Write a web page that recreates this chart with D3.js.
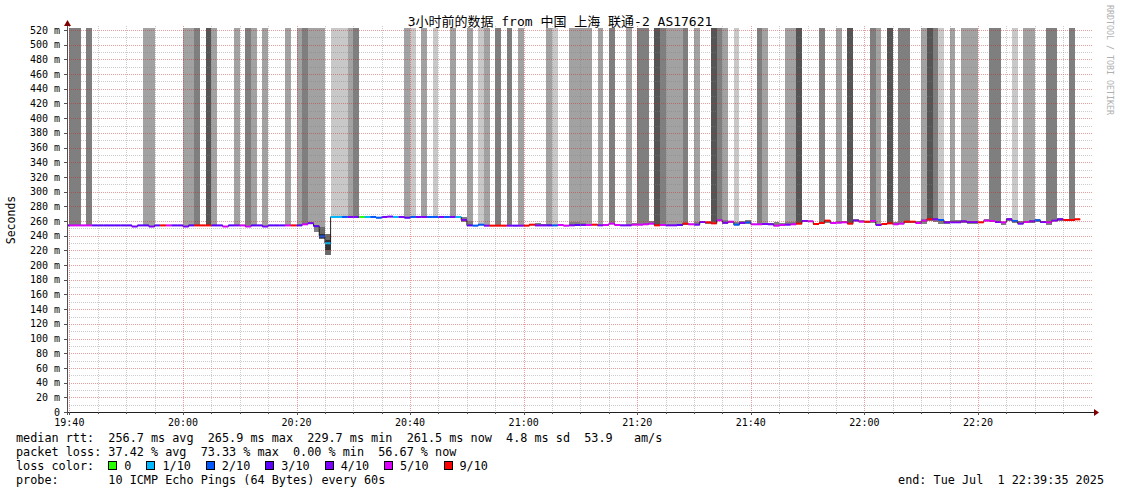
<!DOCTYPE html>
<html><head><meta charset="utf-8">
<script src="https://cdn.jsdelivr.net/npm/d3@7"></script>
<style>
body{margin:0;background:#fff}
svg{display:block}
text{font-family:"DejaVu Sans Mono","Noto Sans CJK SC",monospace;fill:#000}
</style>
</head><body>
<svg id="c" width="1121" height="494"></svg>
<script>
// ---------------- DATA ----------------
const title = "3小时前的数据 from 中国 上海 联通-2 AS17621";
const yLabel = "Seconds";
const sideLabel = "RRDTOOL / TOBI OETIKER";
const firstStep = [2025, 6, 1, 19, 39];          // first 60 s step (partially visible)
const rangeStart = [2025, 6, 1, 19, 39, 35];
const rangeEnd = [2025, 6, 1, 22, 39, 35];
const yTicks = [0,20,40,60,80,100,120,140,160,180,200,220,240,260,280,300,320,340,360,380,400,420,440,460,480,500,520];
const yTickLabels = ["0","20 m","40 m","60 m","80 m","100 m","120 m","140 m","160 m","180 m","200 m","220 m","240 m","260 m","280 m","300 m","320 m","340 m","360 m","380 m","400 m","420 m","440 m","460 m","480 m","500 m","520 m"];
const xTickLabels = ["19:40","20:00","20:20","20:40","21:00","21:20","21:40","22:00","22:20"];

// median rtt (ms) per minute, 19:39 .. 22:37
const median = [
 254,254,254,254,254,254,254,254,254,254,254,254, // 19:39-19:50
 252.5,254,254,252.5,254,254,254,254,254,252.5,  // 19:51-20:00
 254,254,254,254,254,254,252.5,254,254,254,      // 20:01-20:10
 252.5,254,254,252.5,254,254,254,254,254,254,    // 20:11-20:20
 255.5,257,253,239,229.7,265.5,265.5,265.5,265.5,265.5, // 20:21-20:30
 265.5,265.5,265.5,264.5,265.5,266,265.5,265.5,264.5,265.5, // 20:31-20:40
 265.5,265.5,265.5,265.5,265.5,265.5,265.5,265.5,261.5,254, // 20:41-20:50
 253.7,255,253.7,253.7,253.7,253.7,253.7,253.7,253.7,253.7, // 20:51-21:00
 255,254,254,254,254,254.6,253.7,254.1,254.6,254.6,        // 21:01-21:10
 254.6,255,254.1,254.6,256.4,254.6,254.1,254.1,255,255,    // 21:11-21:20
 255.5,256.4,254.1,254.6,254.1,254.1,254.6,256.4,255.5,255, // 21:21-21:30
 258.6,258.2,256.8,260.9,257.7,259.1,255,257.3,258.2,255.5, // 21:31-21:40
 255.5,255.9,255.5,253.7,254.6,255,255.5,256.4,260,259.6,   // 21:41-21:50
 255.9,257.3,260.5,257.3,257.7,258.2,256.4,260.5,259.1,259.1, // 21:51-22:00
 260,254.6,255.9,256.8,255.5,256.4,259.1,259.1,257.3,260.5, // 22:01-22:10
 262.3,262.3,261.4,258.2,258.2,258.2,259.6,258.6,258.6,258.2, // 22:11-22:20
 260.5,260,258.6,258.2,262.3,260,256.4,258.6,259.6,260.9,   // 22:21-22:30
 258.6,258.2,260.5,262.3,261.4,261.4,262.3                  // 22:31-22:37
];
// lost pings out of 10 per minute
const loss = [
 3,5,5,5,5,3,3,3,3,3,3,3,
 4,3,3,4,3,9,5,3,3,4,
 3,9,9,9,3,3,5,3,4,5,
 5,3,3,4,3,3,3,5,9,3,
 5,4,3,2,1,1,1,2,4,4,
 0,1,2,2,4,4,1,4,3,2,
 4,4,2,2,4,2,4,1,4,3,
 2,2,4,9,9,9,4,3,4,9,
 9,4,4,3,2,5,5,4,3,4,
 5,9,4,5,5,5,4,4,5,5,
 5,5,9,5,4,4,3,9,5,4,
 4,9,9,5,4,5,2,4,2,5,
 5,4,4,5,5,4,5,9,4,5,
 9,9,9,5,5,5,9,4,5,9,
 5,4,9,9,5,5,9,9,5,5,
 9,4,2,4,4,4,4,4,4,9,
 5,5,4,5,4,2,4,5,4,2,
 4,5,4,4,9,9,9
];
// tall smoke band shade (0 none, 1 light .. 4 darkest)
const tallSmoke = [
 0,3,3,0,3,0,0,0,0,0,0,0,
 0,0,2,2,0,0,0,0,0,2,
 2,3,0,4,2,0,0,0,2,0,
 3,2,0,2,0,0,0,2,0,2,
 3,2,2,2,0,1,1,1,2,3,
 0,0,0,0,0,0,0,0,2,1,
 0,2,0,1,0,0,2,0,0,2,
 0,1,2,0,3,0,3,0,2,0,
 0,0,0,2,1,0,0,2,2,2,
 2,0,2,0,3,0,0,2,0,3,
 3,0,4,3,2,2,2,3,0,2,
 0,0,4,3,2,0,1,0,0,0,
 3,2,0,0,0,2,2,4,0,0,
 0,3,0,0,2,0,4,0,0,0,
 3,2,0,4,0,3,3,0,0,2,
 4,3,1,0,2,0,2,2,2,0,
 0,3,3,0,0,1,0,2,2,0,
 0,3,3,0,0,3,0
];
// smoke spread above / below the median (ms)
const smokeUp = [
 0,0,0,0,0,0,0,0,0,0,0,0,
 0,0,0,0,0,0,0,0,0,0,
 0,0,0,0,0,0,0,0,0,0,
 0,0,0,0,0,0,0,0,0,0,
 0,0,0,13,13,0,0,0,0,0,
 0,0,0,0,0,0,0,0,0,0,
 0,0,0,0,0,0,0,0,4.5,6,
 0,1,0,0,0,0,0,0,0,0,
 1,3.5,2,2,0,1,0,4.5,4.5,3,
 0,1,0,1,2,1,0,0,2.5,2.5,
 2.5,3,0,1,0,1,0,0,1,3,
 2,0,2,2,3,0,3,3,3,1,
 1,2,2,5,2,3,3,0,2,1,
 0,2,0,2,2,2,0,2,2,0,
 2,0,0,0,2.5,2.5,1,1,3,2,
 0,0,0,2,3,3,0,0,0,1,
 2,2,1,0,2,0,3,2,0,2,
 0,0,2,2,1,1,1
];
const smokeDown = [
 0,0,0,0,0,0,0,0,0,0,0,0,
 0,0,0,0,0,0,0,0,0,0,
 0,0,0,0,0,0,0,0,0,0,
 0,0,0,0,0,0,0,0,0,0,
 0,0,7.5,4,16,0,0,0,0,0,
 0,0,0,0,0,0,0,0,0,0,
 0,0,0,0,0,0,0,0,2.5,0,
 0,0,0,0,0,0,0,0,0,0,
 0,0,0,0,0,0,0,0,0,0,
 0,0,0,0,0,0,0,0,0,0,
 0,0,0,0,0,1.5,1.5,1.5,0,0,
 0,2,0,0,2,2,0,0,2,1,
 1,1,1,0,0,0,0,0,2,0,
 2,0,3,0,0,0,1,0,0,2,
 3,1,1.5,1,0,0,2,2,2,4,
 2,3,5,2,0,0,3,3,3,0,
 0,0,2,3,2,3,0,0,2,2,
 2,3,0,2,1,1,1
];
const lossColors = {0:"#26ff00",1:"#00b8ff",2:"#0059ff",3:"#5e00ff",4:"#7e00ff",5:"#dd00ff",9:"#ff0000"};
const lossLegend = [[0,"0"],[1,"1/10"],[2,"2/10"],[3,"3/10"],[4,"4/10"],[5,"5/10"],[9,"9/10"]];
const statLines = [
 "median rtt:  256.7 ms avg  265.9 ms max  229.7 ms min  261.5 ms now  4.8 ms sd  53.9   am/s",
 "packet loss: 37.42 % avg  73.33 % max  0.00 % min  56.67 % now",
 "loss color:",
 "probe:       10 ICMP Echo Pings (64 Bytes) every 60s"
];
const endLabel = "end: Tue Jul  1 22:39:35 2025";
const shadeColors = [null,"#c8c8c8","#a2a2a2","#7f7f7f","#555555"];

// ---------------- LAYOUT ----------------
const L = 67, R = 1089.2, gridR = 1093, T = 28, B = 412;
const svg = d3.select("#c");
const t0 = new Date(...rangeStart), t1 = new Date(...rangeEnd);
const x = d3.scaleTime().domain([t0, t1]).range([L, R]);
const y = d3.scaleLinear().domain([0, 520]).range([B, 30]);
const stepStart = i => d3.timeMinute.offset(new Date(...firstStep), i);
const n = Math.min(median.length, loss.length, tallSmoke.length);
const data = d3.range(n).map(i => ({
  a: stepStart(i), b: stepStart(i + 1), med: median[i], loss: loss[i],
  tall: tallSmoke[i], up: smokeUp[i] || 0, down: smokeDown[i] || 0
}));

svg.append("defs").append("clipPath").attr("id","clip")
  .append("rect").attr("x", L).attr("y", T).attr("width", gridR - L).attr("height", B - T);
const plot = svg.append("g").attr("clip-path","url(#clip)");

// tall smoke bands
plot.selectAll("rect.tall").data(data.filter(d => d.tall > 0)).join("rect")
  .attr("x", d => x(d.a)).attr("width", d => x(d.b) - x(d.a))
  .attr("y", T).attr("height", d => y(d.med) - T)
  .attr("fill", d => shadeColors[d.tall]).attr("shape-rendering","crispEdges");

// smoke near the median
plot.selectAll("rect.smoke").data(data.filter(d => d.up > 0 || d.down > 0)).join("rect")
  .attr("x", d => x(d.a)).attr("width", d => x(d.b) - x(d.a))
  .attr("y", d => y(d.med + d.up)).attr("height", d => y(d.med - d.down) - y(d.med + d.up))
  .attr("fill", d => (d.up + d.down) > 10 ? "#6a6a6a" : "#808080").attr("shape-rendering","crispEdges");
// darker core of the dip
plot.selectAll("rect.core").data(data.filter(d => (d.up + d.down) > 10)).join("rect")
  .attr("x", d => x(d.a)).attr("width", d => x(d.b) - x(d.a))
  .attr("y", d => y(d.med + d.up * 0.3)).attr("height", d => y(d.med - d.down * 0.6) - y(d.med + d.up * 0.3))
  .attr("fill", "#333").attr("shape-rendering","crispEdges");

// grid
const grid = svg.append("g").attr("shape-rendering","crispEdges").attr("stroke-dasharray","1,1");
const minorY = d3.range(10, 521, 20);
grid.selectAll("line.my").data(minorY).join("line")
  .attr("x1", L).attr("x2", gridR).attr("y1", d => Math.round(y(d)) + 0.5).attr("y2", d => Math.round(y(d)) + 0.5)
  .attr("stroke", "rgba(128,128,128,0.4)");
grid.selectAll("line.My").data(yTicks.filter(v => v > 0)).join("line")
  .attr("x1", L).attr("x2", gridR).attr("y1", d => Math.round(y(d)) + 0.5).attr("y2", d => Math.round(y(d)) + 0.5)
  .attr("stroke", "rgba(200,40,40,0.45)");
const vt = x.ticks(d3.timeMinute.every(5));
grid.selectAll("line.vx").data(vt).join("line")
  .attr("x1", d => Math.round(x(d)) + 0.5).attr("x2", d => Math.round(x(d)) + 0.5)
  .attr("y1", T - 2).attr("y2", B)
  .attr("stroke", d => d.getMinutes() % 20 === 0 ? "rgba(200,40,40,0.45)" : "rgba(128,128,128,0.4)");

// median: dark connector then loss-coloured segments
const stepPts = data.map(d => [x(d.a), y(d.med)]);
stepPts.push([x(data[n-1].b), y(data[n-1].med)]);
plot.append("path").attr("d", d3.line().curve(d3.curveStepAfter)(stepPts))
  .attr("fill","none").attr("stroke","#202020").attr("stroke-width",1);
plot.selectAll("line.med").data(data).join("line")
  .attr("x1", d => x(d.a)).attr("x2", d => x(d.b))
  .attr("y1", d => y(d.med)).attr("y2", d => y(d.med))
  .attr("stroke", d => lossColors[d.loss]).attr("stroke-width", 2);

// axes
const ax = svg.append("g").attr("shape-rendering","crispEdges");
ax.append("line").attr("x1", L - 3).attr("x2", gridR + 1).attr("y1", B + 0.5).attr("y2", B + 0.5).attr("stroke","#202020");
ax.append("line").attr("x1", L + 0.5).attr("x2", L + 0.5).attr("y1", 23).attr("y2", B + 3).attr("stroke","#505050");
svg.append("path").attr("d", `M${gridR+1},${B-3} L${gridR+6},${B+0.5} L${gridR+1},${B+4} Z`).attr("fill","#7f0000");
svg.append("path").attr("d", `M${L-3},${T-2} L${L+0.5},${T-8} L${L+4},${T-2} Z`).attr("fill","#7f0000");
// tick marks
ax.selectAll("line.yt").data(yTicks).join("line")
  .attr("x1", L - 3).attr("x2", L).attr("y1", d => Math.round(y(d)) + 0.5).attr("y2", d => Math.round(y(d)) + 0.5)
  .attr("stroke","#505050");
ax.selectAll("line.xt").data(vt).join("line")
  .attr("x1", d => Math.round(x(d)) + 0.5).attr("x2", d => Math.round(x(d)) + 0.5)
  .attr("y1", B).attr("y2", d => B + (d.getMinutes() % 20 === 0 ? 3 : 2)).attr("stroke","#505050");

// y labels
svg.selectAll("text.yl").data(yTicks).join("text")
  .attr("x", 60).attr("y", d => y(d) + 3.6).attr("text-anchor","end")
  .style("font-size","10px").text((d, i) => yTickLabels[i]);
// x labels
const xMajor = vt.filter(d => d.getMinutes() % 20 === 0);
svg.selectAll("text.xl").data(xMajor).join("text")
  .attr("x", d => x(d)).attr("y", 426).attr("text-anchor","middle")
  .style("font-size","10px").text((d, i) => xTickLabels[i]);

// titles
svg.append("text").attr("x", 560).attr("y", 26).attr("text-anchor","middle")
  .style("font-size","13px").text(title);
svg.append("text").attr("transform","translate(15,220) rotate(-90)").attr("text-anchor","middle")
  .style("font-size","11.5px").text(yLabel);
svg.append("text").attr("transform","translate(1107,5) rotate(90)").attr("text-anchor","start")
  .style("font-size","8.3px").style("fill","#b0b0b0").text(sideLabel);

// legend
const fs = 11.8, cw = fs * 0.602;
statLines.forEach((s, i) => {
  svg.append("text").attr("x", 16).attr("y", 442 + i * 14).style("font-size", fs + "px")
    .attr("xml:space","preserve").style("white-space","pre").text(s);
});
let lx = 16 + 13 * cw;
lossLegend.forEach(([k, lab]) => {
  svg.append("rect").attr("x", lx + 0.5).attr("y", 461.5).attr("width", 8).attr("height", 8)
    .attr("fill", lossColors[k]).attr("stroke","#000").attr("shape-rendering","crispEdges");
  svg.append("text").attr("x", lx + 16).attr("y", 470).style("font-size", fs + "px").text(lab);
  lx += 16 + lab.length * cw + 15;
});
svg.append("text").attr("x", 1104).attr("y", 484).attr("text-anchor","end")
  .style("font-size", fs + "px").style("white-space","pre").text(endLabel);
</script>
</body></html>
